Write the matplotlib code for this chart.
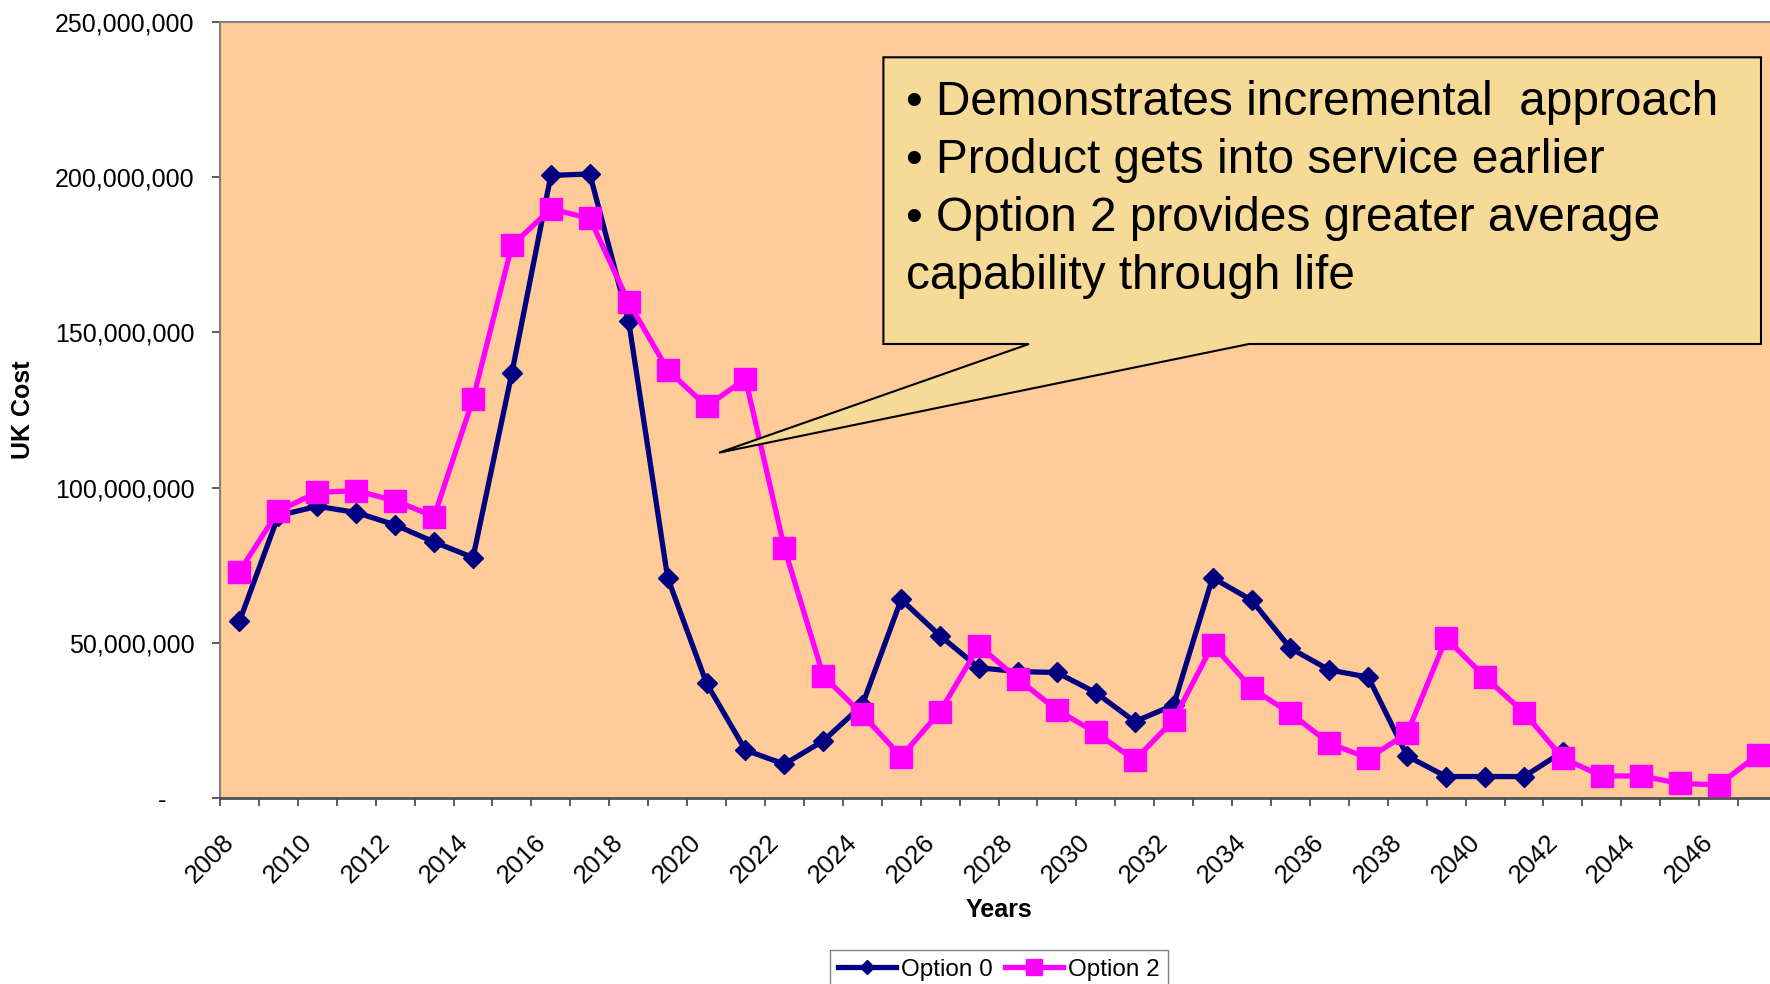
import numpy as np
import matplotlib
matplotlib.use('Agg')
import matplotlib.pyplot as plt
from matplotlib.patches import Polygon
from matplotlib.ticker import FuncFormatter
from matplotlib.transforms import ScaledTranslation

plt.rcParams['font.family'] = ['Liberation Sans', 'DejaVu Sans']

# UK cost per year, in millions
years = list(range(2008, 2048))
option_0 = [57, 91, 94, 92, 88, 82.5, 77.5, 137, 200.5, 201,
            153.5, 71, 37, 15.5, 11, 18.5, 30, 64, 52.3, 42,
            40.8, 40.5, 34, 24.7, 30, 71, 63.8, 48.3, 41.3, 39,
            13.6, 7, 7, 7, 15]
option_2 = [73, 92.5, 98.5, 99, 95.8, 90.7, 128.5, 178, 189.7, 186.7,
            159.7, 137.9, 126.2, 135, 80.5, 39.4, 27, 13.4, 27.9, 49.1,
            38.4, 28.4, 21.2, 12.3, 25.2, 49.4, 35.4, 27.4, 17.7, 12.9,
            20.9, 51.5, 39, 27.6, 12.9, 7.2, 7.2, 4.8, 4.3, 13.9]
series_names = ['Option 0', 'Option 2']
callout_lines = ['\u2022 Demonstrates incremental  approach',
                 '\u2022 Product gets into service earlier',
                 '\u2022 Option 2 provides greater average',
                 'capability through life']

W, H = 1770, 984
fig = plt.figure(figsize=(W / 100, H / 100), dpi=100)
ax = fig.add_axes([220 / W, 1 - 798.3 / H, 1557 / W, 776.6 / H])
ax.set_facecolor('#FFCC99')

x = np.arange(len(years))
ax.plot(x[:len(option_0)], np.array(option_0) * 1e6, color='#000080', lw=3.8,
        marker='D', ms=10, mec='#000080', label=series_names[0], zorder=3)
ax.plot(x, np.array(option_2) * 1e6, color='#FF00FF', lw=3.8,
        marker='s', ms=16, mec='#FF00FF', label=series_names[1], zorder=4)

ax.set_xlim(-0.5, len(years) - 0.5)
ax.set_ylim(0, 250e6)
ax.set_yticks(np.arange(0, 250e6 + 1, 50e6))
ax.yaxis.set_major_formatter(FuncFormatter(lambda v, p: '-    ' if v == 0 else f'{v:,.0f}'))
ax.tick_params(axis='y', length=5.5, width=1.2, color='#404040', pad=13, labelsize=18)

ax.set_xticks(x[::2])
ax.set_xticklabels([str(y) for y in years[::2]], rotation=45, ha='right', va='center',
                   rotation_mode='anchor')
ax.set_xticks(np.arange(-0.5, len(years)), minor=True)
ax.tick_params(axis='x', which='major', length=0, pad=29, labelsize=18.5)
ax.tick_params(axis='x', which='minor', length=5.5, width=1.2, color='#404040')
shift = ScaledTranslation(-0.09, 0, fig.dpi_scale_trans)
for lab in ax.get_xticklabels():
    lab.set_transform(lab.get_transform() + shift)

for side in ['left', 'top', 'right']:
    ax.spines[side].set_color('#808080')
    ax.spines[side].set_linewidth(1.5)
ax.spines['bottom'].set_color('#505050')
ax.spines['bottom'].set_linewidth(2)

ax.set_xlabel('Years', fontsize=18, fontweight='bold')
ax.xaxis.set_label_coords(0.5, -0.129)
ax.set_ylabel('UK Cost', fontsize=18, fontweight='bold')
ax.yaxis.set_label_coords(-0.119, 0.5)

# callout box with pointer
box_px = [(883.4, 57.3), (1761, 57.3), (1761, 344), (1249, 344),
          (719, 452.7), (1029, 344), (883.4, 344)]
callout = Polygon([(px / W, 1 - py / H) for px, py in box_px], closed=True,
                  transform=fig.transFigure, facecolor='#F6DB98', edgecolor='black',
                  lw=1.5, zorder=5)
fig.patches.append(callout)
fig.text(906 / W, 1 - 80 / H, '\n'.join(callout_lines), ha='left', va='top',
         fontsize=34.4, linespacing=1.37, zorder=6)

fig.legend(loc='upper center', bbox_to_anchor=(999 / W, 1 - 950 / H), ncol=2,
           frameon=True, fancybox=False, edgecolor='#808080', framealpha=1,
           fontsize=17.5, handlelength=2.4, handletextpad=0.2, columnspacing=0.5,
           borderpad=0.35, numpoints=1, markerscale=0.75, borderaxespad=0)

fig.savefig('out.png', dpi=100)
